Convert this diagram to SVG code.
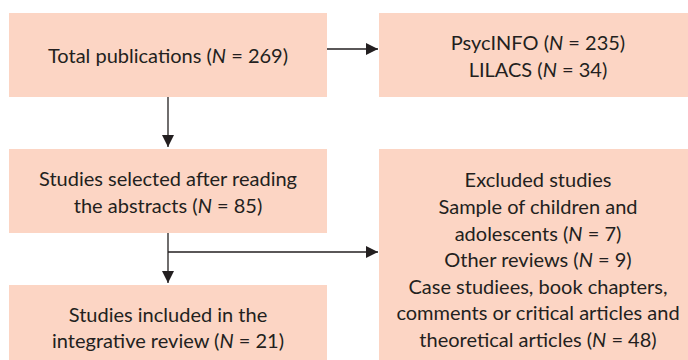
<svg xmlns="http://www.w3.org/2000/svg" width="688" height="360" viewBox="0 0 688 360">
<defs>
<style>
.box{fill:#FCD5C4;}
.t{font-family:Lato,"Open Sans","DejaVu Sans",sans-serif;font-size:20px;fill:#231F20;text-anchor:middle;}
.i{font-style:italic;}
.c{stroke:#231F20;stroke-width:1.3;fill:none;}
</style>
<marker id="ah" viewBox="0 0 10 10" refX="10" refY="5" markerWidth="12" markerHeight="12" markerUnits="userSpaceOnUse" orient="auto">
<path d="M0,0 L10,5 L0,10 z" fill="#231F20"/>
</marker>
</defs>
<rect width="688" height="360" fill="#fff"/>
<g id="total">
<rect class="box" x="9" y="13" width="318" height="84"/>
<text class="t" x="168" y="63">Total publications (<tspan class="i">N</tspan> = 269)</text>
</g>
<g id="databases">
<rect class="box" x="379" y="13" width="320" height="84"/>
<text class="t" x="538" y="50">PsycINFO (<tspan class="i">N</tspan> = 235)</text>
<text class="t" x="538" y="77">LILACS (<tspan class="i">N</tspan> = 34)</text>
</g>
<g id="selected">
<rect class="box" x="9" y="149" width="318" height="84"/>
<text class="t" x="168" y="186">Studies selected after reading</text>
<text class="t" x="168" y="213">the abstracts (<tspan class="i">N</tspan> = 85)</text>
</g>
<g id="excluded">
<rect class="box" x="379" y="149" width="320" height="215"/>
<text class="t" x="538" y="187">Excluded studies</text>
<text class="t" x="538" y="214">Sample of children and</text>
<text class="t" x="538" y="241">adolescents (<tspan class="i">N</tspan> = 7)</text>
<text class="t" x="538" y="267">Other reviews (<tspan class="i">N</tspan> = 9)</text>
<text class="t" x="538" y="294">Case studiees, book chapters,</text>
<text class="t" x="538" y="320">comments or critical articles and</text>
<text class="t" x="538" y="347">theoretical articles (<tspan class="i">N</tspan> = 48)</text>
</g>
<g id="included">
<rect class="box" x="9" y="285" width="318" height="80"/>
<text class="t" x="168" y="322">Studies included in the</text>
<text class="t" x="168" y="348">integrative review (<tspan class="i">N</tspan> = 21)</text>
</g>
<g id="connectors">
<line class="c" x1="327" y1="49" x2="378" y2="49" marker-end="url(#ah)"/>
<line class="c" x1="168" y1="97" x2="168" y2="147" marker-end="url(#ah)"/>
<line class="c" x1="168" y1="233" x2="168" y2="283" marker-end="url(#ah)"/>
<line class="c" x1="168" y1="252" x2="378" y2="252" marker-end="url(#ah)"/>
</g>
</svg>
